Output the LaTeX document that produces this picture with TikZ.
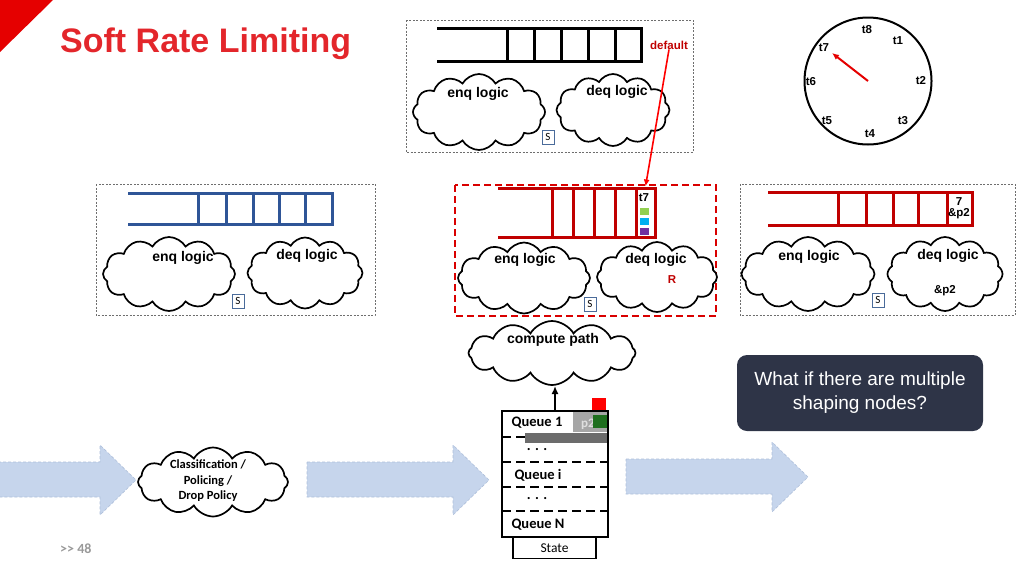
\documentclass[tikz,border=0pt]{standalone}
\usepackage{fontspec}
\setmainfont{Liberation Sans}
\newfontfamily\calfont{Carlito}
\usetikzlibrary{shapes.symbols,arrows.meta}
\definecolor{titlered}{HTML}{E3262B}
\definecolor{darkred}{HTML}{C00000}
\definecolor{qblue}{HTML}{2F5597}
\definecolor{sblue}{HTML}{4A6B9A}
\definecolor{arrowfill}{HTML}{C6D5EC}
\definecolor{arrowedge}{HTML}{AEBFDA}
\definecolor{calloutbg}{HTML}{2E3447}
\definecolor{cgreen}{HTML}{92D050}
\definecolor{ccyan}{HTML}{00B0F0}
\definecolor{cpurple}{HTML}{7030A0}
\definecolor{dgreen}{HTML}{1F6F1F}
\definecolor{boxgray}{HTML}{6E6E6E}
\begin{document}
\begin{tikzpicture}[x=1pt,y=-1pt,
  dbox/.style={draw=boxgray, dash pattern=on 2pt off 1.5pt, line width=0.9pt},
  rdbox/.style={draw=red!85!black, dash pattern=on 7pt off 4pt, line width=2pt},
  cloudnode/.style={cloud, cloud puffs=12, cloud puff arc=120, cloud ignores aspect, draw, line width=1.7pt, inner sep=0pt, outer sep=0pt, fill=white},
  lbl/.style={font=\bfseries\fontsize{14}{16}\selectfont, inner sep=0pt},
  small/.style={font=\bfseries\fontsize{11.5}{13}\selectfont, inner sep=0pt},
  sbox/.style={draw=sblue, line width=0.9pt, minimum width=12pt, minimum height=14pt, inner sep=0pt, font=\calfont\fontsize{11}{12}\selectfont},
  qline/.style={line width=3pt, line join=miter},
  qdash/.style={line width=2.5pt, dash pattern=on 9pt off 5pt},
  qlbl/.style={font=\calfont\bfseries\fontsize{14.5}{16}\selectfont, inner sep=0pt},
  bigarrow/.style={fill=arrowfill, draw=arrowedge, dash pattern=on 3pt off 2pt, line width=0.6pt},
  clk/.style={font=\bfseries\fontsize{11.5}{12}\selectfont, inner sep=0pt}
]
\useasboundingbox (0,0) rectangle (1024,576);

% corner triangle and title
\fill[red!90!black] (0,0) -- (53,0) -- (0,52) -- cycle;
\node[anchor=base west, text=titlered, font=\bfseries\fontsize{34}{36}\selectfont, inner sep=0pt] (title) at (60,52) {Soft Rate Limiting};

% ---------- top box ----------
\draw[dbox] (406,20) rectangle (693,152);
\draw[qline] (437,28) -- (641,28) -- (641,61) -- (437,61);
\foreach \x in {507,534,561,588,615} \draw[qline] (\x,28) -- (\x,61);
\node[cloudnode, minimum width=132pt, minimum height=76pt] (tenq) at (479,112) {};
\node[cloudnode, minimum width=113pt, minimum height=72pt] (tdeq) at (613,110) {};
\node[lbl] (tenqt) at (478,94) {enq logic};
\node[lbl] (tdeqt) at (617,92) {deq logic};
\node[sbox] (ts) at (548,137) {S};
\node[text=darkred, font=\bfseries\fontsize{11.5}{13}\selectfont, inner sep=0pt] (deflbl) at (669,45) {default};

% ---------- clock ----------
\node[circle, draw, line width=2pt, minimum size=127pt, inner sep=0pt] (clock) at (868,81) {};
\node[clk] (c8) at (867,30) {t8};
\node[clk] (c1) at (898,41) {t1};
\node[clk] (c2) at (921,81) {t2};
\node[clk] (c3) at (903,121) {t3};
\node[clk] (c4) at (870,134) {t4};
\node[clk] (c5) at (827,121) {t5};
\node[clk] (c6) at (811,82) {t6};
\node[clk] (c7) at (824,48) {t7};
\coordinate (hand) at (832,53);
\draw[red!90!black, line width=2pt, -{Latex[length=7pt,width=6pt]}] (clock.center) -- (hand);

% ---------- left box ----------
\draw[dbox] (96,184) rectangle (375,315);
\draw[qline, qblue] (128,193) -- (332,193) -- (332,224) -- (128,224);
\foreach \x in {198,226,253,279,305} \draw[qline, qblue] (\x,193) -- (\x,224);
\node[cloudnode, minimum width=132pt, minimum height=74pt] (lenq) at (169,274) {};
\node[cloudnode, minimum width=115pt, minimum height=71pt] (ldeq) at (305,273) {};
\node[lbl] (lenqt) at (183,258) {enq logic};
\node[lbl] (ldeqt) at (307,256) {deq logic};
\node[sbox] (ls) at (238,301) {S};

% ---------- middle box ----------
\draw[rdbox] (455,185) rectangle (716,316);
\draw[qline, darkred] (498,188) -- (655,188) -- (655,237) -- (498,237);
\foreach \x in {552,573,594,615} \draw[qline, darkred] (\x,188) -- (\x,237);
\node[draw=darkred, line width=3pt, minimum width=19pt, minimum height=49pt, inner sep=0pt] (t7cell) at (645.5,212.5) {};
\node[small] (t7t) at (644,198) {t7};
\fill[cgreen] (640,208) rectangle (649,215);
\fill[ccyan] (640,218) rectangle (649,225);
\fill[cpurple] (640,228) rectangle (649,235);
\node[cloudnode, minimum width=132pt, minimum height=71pt] (menq) at (524,278) {};
\node[cloudnode, minimum width=120pt, minimum height=70pt] (mdeq) at (657,277) {};
\node[lbl] (menqt) at (525,260) {enq logic};
\node[lbl] (mdeqt) at (656,260) {deq logic};
\node[small, text=darkred] (rlbl) at (672,280) {R};
\node[sbox] (ms) at (590,304) {S};

% ---------- right box ----------
\draw[dbox] (740,184) rectangle (1015,315);
\draw[qline, darkred] (768,192) -- (972,192) -- (972,225) -- (768,225);
\foreach \x in {838,866,893,918,947} \draw[qline, darkred] (\x,192) -- (\x,225);
\node[small, align=center, font=\bfseries\fontsize{11.5}{11.5}\selectfont] (r7) at (959,208) {7\\\&p2};
\node[cloudnode, minimum width=133pt, minimum height=74pt] (renq) at (808,274) {};
\node[cloudnode, minimum width=115pt, minimum height=74pt] (rdeq) at (945,274) {};
\node[lbl] (renqt) at (809,257) {enq logic};
\node[lbl] (rdeqt) at (948,256) {deq logic};
\node[small] (rp2) at (945,291) {\&p2};
\node[sbox] (rs) at (878,300) {S};

% ---------- compute path ----------
\node[cloudnode, minimum width=167pt, minimum height=64pt] (comp) at (552,353) {};
\node[lbl] (compt) at (553,340) {compute path};
\coordinate (compin) at (555,386);

% ---------- queue box ----------
\fill[white] (502,411) rectangle (608,537);
\fill[gray!70] (573,412) rectangle (607,432);
\node[font=\calfont\bfseries\fontsize{13}{15}\selectfont, text=gray!25, inner sep=0pt] (p2t) at (588,424) {p2};
\fill[dgreen] (593,415) rectangle (607,428);
\fill[red] (592,398) rectangle (606,411);
\draw[qdash] (502,437) -- (608,437);
\fill[gray!85!black] (525,433) rectangle (607,443);
\draw[qdash] (502,462) -- (608,462);
\draw[qdash] (502,487) -- (608,487);
\draw[qdash] (502,511) -- (608,511);
\node[draw, line width=2.5pt, minimum width=106pt, minimum height=126pt, inner sep=0pt] (qbox) at (555,474) {};
\node[qlbl] (q1) at (537,423) {Queue 1};
\node[qlbl] (qd1) at (537,450) {. . .};
\node[qlbl] (qi) at (538,475) {Queue i};
\node[qlbl] (qd2) at (537,499) {. . .};
\node[qlbl] (qn) at (538,525) {Queue N};
\node[draw, line width=1.5pt, minimum width=83pt, minimum height=21pt, inner sep=0pt, font=\calfont\fontsize{13.5}{15}\selectfont] (state) at (554.5,548) {State};
\draw[line width=2pt, -{Latex[length=8pt,width=7pt]}] (qbox.north) -- (compin);

% ---------- big arrows ----------
\draw[bigarrow] (-2,462) -- (100,462) -- (100,445) -- (136,480) -- (100,515) -- (100,497) -- (-2,497) -- cycle;
\draw[bigarrow] (307,462) -- (453,462) -- (453,445) -- (489,480) -- (453,515) -- (453,497) -- (307,497) -- cycle;
\draw[bigarrow] (626,459) -- (772,459) -- (772,442) -- (808,477) -- (772,512) -- (772,494) -- (626,494) -- cycle;

% ---------- classification ----------
\node[cloudnode, minimum width=150pt, minimum height=69pt] (cls) at (213,482) {};
\node[align=center, font=\calfont\bfseries\fontsize{12.5}{15.5}\selectfont, inner sep=0pt] (clst) at (208,481) {Classification /\\Policing /\\Drop Policy};

% ---------- callout ----------
\node[fill=calloutbg, rounded corners=10pt, minimum width=246pt, minimum height=76pt, text=white, align=center, font=\fontsize{19}{24}\selectfont] (callout) at (860,393) {What if there are multiple\\shaping nodes?};

% page number
\node[anchor=west, text=gray!80, font=\calfont\bfseries\fontsize{14}{15}\selectfont, inner sep=0pt] (pg) at (60,549) {>> 48};

% default arrow
\draw[red, line width=1.6pt, -{Latex[length=7pt,width=6pt]}] (deflbl.south) -- (t7cell.north);
\end{tikzpicture}
\end{document}
